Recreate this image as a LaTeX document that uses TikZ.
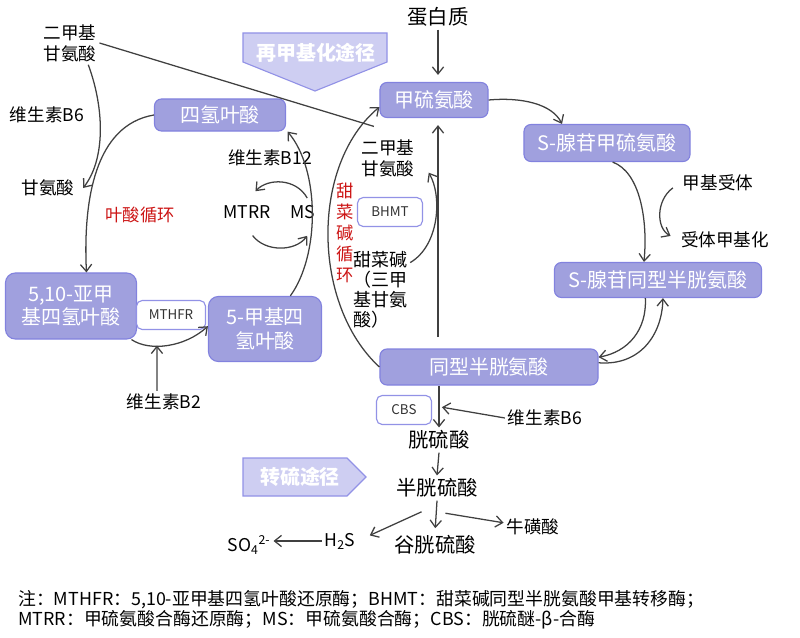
\documentclass[tikz,border=0pt]{standalone}
\usepackage{fontspec}
\setmainfont{Noto Sans CJK SC}
\usepackage{xcolor}
\usetikzlibrary{positioning, arrows.meta, calc}
\definecolor{boxfill}{RGB}{160,160,222}
\definecolor{boxline}{RGB}{130,130,222}
\definecolor{tagfill}{RGB}{206,206,242}
\definecolor{tagline}{RGB}{146,146,230}
\definecolor{cyclered}{RGB}{204,20,20}
\definecolor{arrowgray}{RGB}{64,64,64}

\begin{document}
\begin{tikzpicture}[x=0.025cm, y=-0.025cm,
			metab/.style={rectangle, draw=boxline, fill=boxfill, line width=0.8pt, rounded corners=5pt, text=white, align=center, inner sep=0pt, font=\fontsize{14.2}{16.5}\selectfont},
			enzyme/.style={rectangle, draw=tagline, fill=white, line width=0.8pt, rounded corners=4pt, inner sep=0pt, text=black!80, font=\fontsize{9.5}{11}\selectfont},
			chem/.style={align=center, inner sep=2pt, font=\fontsize{12.5}{15}\selectfont},
			mainchem/.style={align=center, inner sep=2pt, font=\fontsize{14.5}{17}\selectfont},
			cyclename/.style={align=center, inner sep=1pt, text=cyclered, font=\fontsize{12.3}{15}\selectfont},
			tagtext/.style={text=white, inner sep=0pt, font=\fontsize{14.2}{16}\selectfont\bfseries},
			pathtag/.style={draw=tagline, fill=tagfill, line width=0.8pt},
			arrow/.style={-{Straight Barb[length=5pt, width=8pt]}, color=arrowgray, line width=0.9pt},
			]
			\useasboundingbox (0,0) rectangle (800,637);
			% pathway tags
			\draw[pathtag] (243,33) -- (387,33) -- (387,62) -- (315,91) -- (243,62) -- cycle;
			\node[tagtext] (remeth) at (316,53) {再甲基化途径};
			\draw[pathtag] (243,458) -- (347,458) -- (366,477) -- (347,496) -- (243,496) -- cycle;
			\node[tagtext] (transs) at (300,477) {转硫途径};
			% metabolites
			\node[metab, minimum width=2.7cm, minimum height=0.875cm] (met) at (434,100) {甲硫氨酸};
			\node[metab, minimum width=4.15cm, minimum height=0.925cm] (sam) at (607,143) {S-腺苷甲硫氨酸};
			\node[metab, minimum width=5.175cm, minimum height=0.875cm] (sah) at (658,280) {S-腺苷同型半胱氨酸};
			\node[metab, minimum width=5.45cm, minimum height=0.9cm] (hcy) at (489,367) {同型半胱氨酸};
			\node[metab, minimum width=3.275cm, minimum height=0.8cm] (thf) at (220,115) {四氢叶酸};
			\node[metab, rounded corners=7pt, minimum width=2.825cm, minimum height=1.625cm] (mthf) at (265,329) {5-甲基四\\氢叶酸};
			\node[metab, rounded corners=7pt, minimum width=3.275cm, minimum height=1.65cm] (mlthf) at (71,306) {5,10-亚甲\\基四氢叶酸};
			% enzymes
			\node[enzyme, minimum width=1.725cm, minimum height=0.725cm] (mthfr) at (171,315) {MTHFR};
			\node[enzyme, minimum width=1.625cm, minimum height=0.725cm] (bhmt) at (390,212) {BHMT};
			\node[enzyme, minimum width=1.375cm, minimum height=0.725cm] (cbs) at (404,410) {CBS};
			% plain labels
			\node[mainchem] (protein) at (438,17) {蛋白质};
			\node[chem] (dmgA) at (70,43) {二甲基\\甘氨酸};
			\node[chem] (vbA) at (47,115) {维生素B6};
			\node[chem] (gly) at (48,188) {甘氨酸};
			\node[chem] (b12) at (270,158) {维生素B12};
			\node[chem] (mtrr) at (247,212) {MTRR};
			\node[chem] (ms) at (303,212) {MS};
			\node[chem] (b2) at (164,402) {维生素B2};
			\node[chem] (dmgB) at (388,158) {二甲基\\甘氨酸};
			\node[chem, align=left, anchor=west, font=\fontsize{12.8}{14.2}\selectfont] (betaine) at (350,290) {甜菜碱\\（三甲\\基甘氨\\酸）};
			\node[chem] (acc) at (718,183) {甲基受体};
			\node[chem] (accm) at (725,240) {受体甲基化};
			\node[chem] (vbB) at (545,418) {维生素B6};
			\node[mainchem] (cysta) at (439,440) {胱硫酸};
			\node[mainchem] (cys) at (437,488) {半胱硫酸};
			\node[mainchem] (glu) at (435,545) {谷胱硫酸};
			\node[chem] (tau) at (533,527) {牛磺酸};
			\node[chem] (h2s) at (340,541) {H\textsubscript{2}S};
			\node[chem] (so4) at (249,545) {SO\textsubscript{4}\textsuperscript{2-}};
			\node[cyclename] (folcyc) at (140,215) {叶酸循环};
			\node[cyclename, font=\fontsize{12.3}{15}\selectfont] (betcyc) at (345,233) {甜\\菜\\碱\\循\\环};
			% note
			\node[anchor=west, align=left, inner sep=0pt, font=\fontsize{12.7}{14}\selectfont] (note) at (18,610) {注：MTHFR：5,10-亚甲基四氢叶酸还原酶；BHMT：甜菜碱同型半胱氨酸甲基转移酶；\\MTRR：甲硫氨酸合酶还原酶；MS：甲硫氨酸合酶；CBS：胱硫醚-β-合酶};
			% methionine cycle
			\draw[arrow, shorten >=5pt] (protein.south) -- (protein.south |- met.north);
			\draw[arrow] (met.east) .. controls (522,97) and (552,104) .. ([xshift=-32pt]sam.north);
			\draw[arrow] ([xshift=4pt]sam.south) .. controls (640,172) and (648,220) .. ([xshift=-10pt]sah.north);
			\draw[arrow, shorten <=6pt, shorten >=6pt] (acc.west) .. controls (656,200) and (656,228) .. (accm.west);
			\draw[arrow] ([xshift=-9pt]sah.south) .. controls (647,330) and (628,352) .. ([yshift=7pt]hcy.east);
			\draw[arrow] ([yshift=3pt]hcy.east) .. controls (640,366) and (662,335) .. ([xshift=3.5pt]sah.south);
			\draw[arrow, shorten <=8pt, shorten >=5pt] (hcy.north -| protein.south) -- (met.south -| protein.south);
			% betaine cycle
			\draw[arrow] (hcy.west) .. controls (312,305) and (310,165) .. ([yshift=-5pt]met.west);
			\draw[arrow] ([yshift=-10pt]betaine.north east) .. controls (440,245) and (442,195) .. ([xshift=8pt, yshift=5pt]dmgB.south east);
			\draw[color=arrowgray, line width=0.9pt] (dmgA.east) -- ([xshift=-10pt, yshift=7pt]dmgB.north);
			\draw[arrow] ([xshift=13pt]dmgA.south) .. controls (105,110) and (105,160) .. ([xshift=4pt]gly.east);
			% folate cycle
			\draw[arrow] (thf.west) .. controls (95,125) and (83,200) .. ([xshift=11pt]mlthf.north);
			\draw[arrow] ([xshift=-4pt]mlthf.south east) .. controls (150,352) and (185,347) .. ([yshift=2pt]mthf.west);
			\draw[arrow, shorten >=11pt] ([xshift=-5pt]b2.north) -- ([xshift=-10pt]mthfr.south);
			\draw[arrow] ([xshift=18pt]mthf.north) .. controls (320,255) and (320,170) .. ([xshift=48pt]thf.south);
			\draw[arrow] ([xshift=3pt, yshift=3pt]ms.north) .. controls (296,178) and (268,178) .. ([xshift=6pt, yshift=8pt]mtrr.north);
			\draw[arrow] ([xshift=4pt, yshift=-10pt]mtrr.south) .. controls (265,252) and (295,252) .. ([xshift=3pt, yshift=-10pt]ms.south);
			% transsulfuration
			\draw[arrow] (hcy.south -| cysta.north) -- (cysta.north);
			\draw[arrow] (vbB.west) -- ([xshift=7pt, yshift=2pt]cbs.east);
			\draw[arrow] (cysta.south) -- (cys.north);
			\draw[arrow, shorten >=3pt] (cys.south) -- (glu.north);
			\draw[arrow] ([xshift=-11pt, yshift=-8pt]cys.south) -- ([xshift=8pt, yshift=4pt]h2s.east);
			\draw[arrow] ([xshift=6pt, yshift=-9pt]cys.south) -- ([yshift=3pt]tau.west);
			\draw[arrow] (h2s.west) -- (so4.east |- h2s.west);
		\end{tikzpicture}
\end{document}
